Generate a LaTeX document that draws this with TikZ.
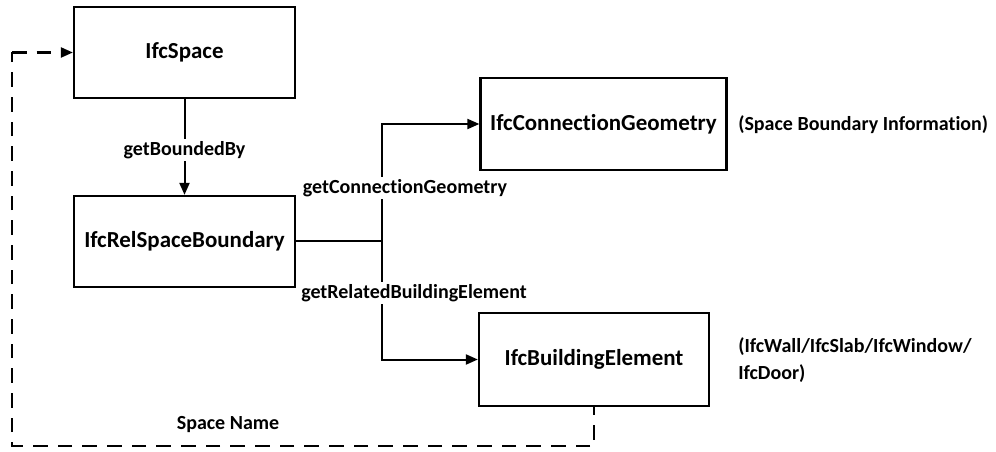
\documentclass[tikz,border=0pt]{standalone}
\usepackage{fontspec}
\setmainfont{Carlito}[Ligatures={NoCommon,NoRare}]
\usetikzlibrary{arrows.meta}
\begin{document}
\begin{tikzpicture}[x=0.75pt,y=-0.75pt,
  box/.style={draw,line width=1.7pt,minimum width=#1,inner sep=0pt,font=\fontsize{17.2}{20}\selectfont\bfseries},
  link/.style={line width=1.5pt},
  tip/.style={-{Triangle[length=9pt,width=7.5pt]}},
  lbl/.style={fill=white,inner sep=1.5pt,font=\fontsize{15}{18}\selectfont\bfseries},
  note/.style={align=left,anchor=west,inner sep=0pt,font=\fontsize{15}{20}\selectfont\bfseries},
  spacedash/.style={line width=1.6pt,dash pattern=on 11pt off 7.5pt}]
\useasboundingbox (0,0) rectangle (996,452);

% boxes
\node[box=221*0.75pt,minimum height=91*0.75pt] (sp)  at (184.5,52.5)  {IfcSpace};
\node[box=221*0.75pt,minimum height=91*0.75pt] (rel) at (184.5,241.5) {IfcRelSpaceBoundary};
\node[box=246*0.75pt,minimum height=92*0.75pt] (geo) at (603.5,124)   {IfcConnectionGeometry};
\node[box=230*0.75pt,minimum height=93*0.75pt] (be)  at (594,359.5)   {IfcBuildingElement};

% side notes
\node[note] (n1) at (738,125) {(Space Boundary Information)};
\node[note] (n2) at (738,360) {(IfcWall/IfcSlab/IfcWindow/\\IfcDoor)};

% getBoundedBy
\draw[link,tip] (sp.south) -- (rel.north)
  node[lbl,pos=0.53] (gb) {getBoundedBy};

% branch to geometry and building element
\coordinate (j) at (382,241.5);
\draw[link] (rel.east) -- (j);
\draw[link,tip] (j) |- (geo.west);
\draw[link,tip] (j) |- (be.west);
\node[lbl] (gcg) at (405,188) {getConnectionGeometry};
\node[lbl] (grbe) at (414,293) {getRelatedBuildingElement};

% space name feedback loop
\coordinate (c1) at (594,446);
\coordinate (c2) at (12,446);
\coordinate (c3) at (12,52.5);
\draw[spacedash,dash phase=5pt] (be.south) -- (c1) -- (c2) -- (c3);
\draw[link,tip,line width=1.6pt,dash pattern=on 11pt off 7.5pt] (c3) -- (sp.west);
\node[font=\fontsize{15}{18}\selectfont\bfseries] (sn) at (228,425) {Space Name};
\end{tikzpicture}
\end{document}
